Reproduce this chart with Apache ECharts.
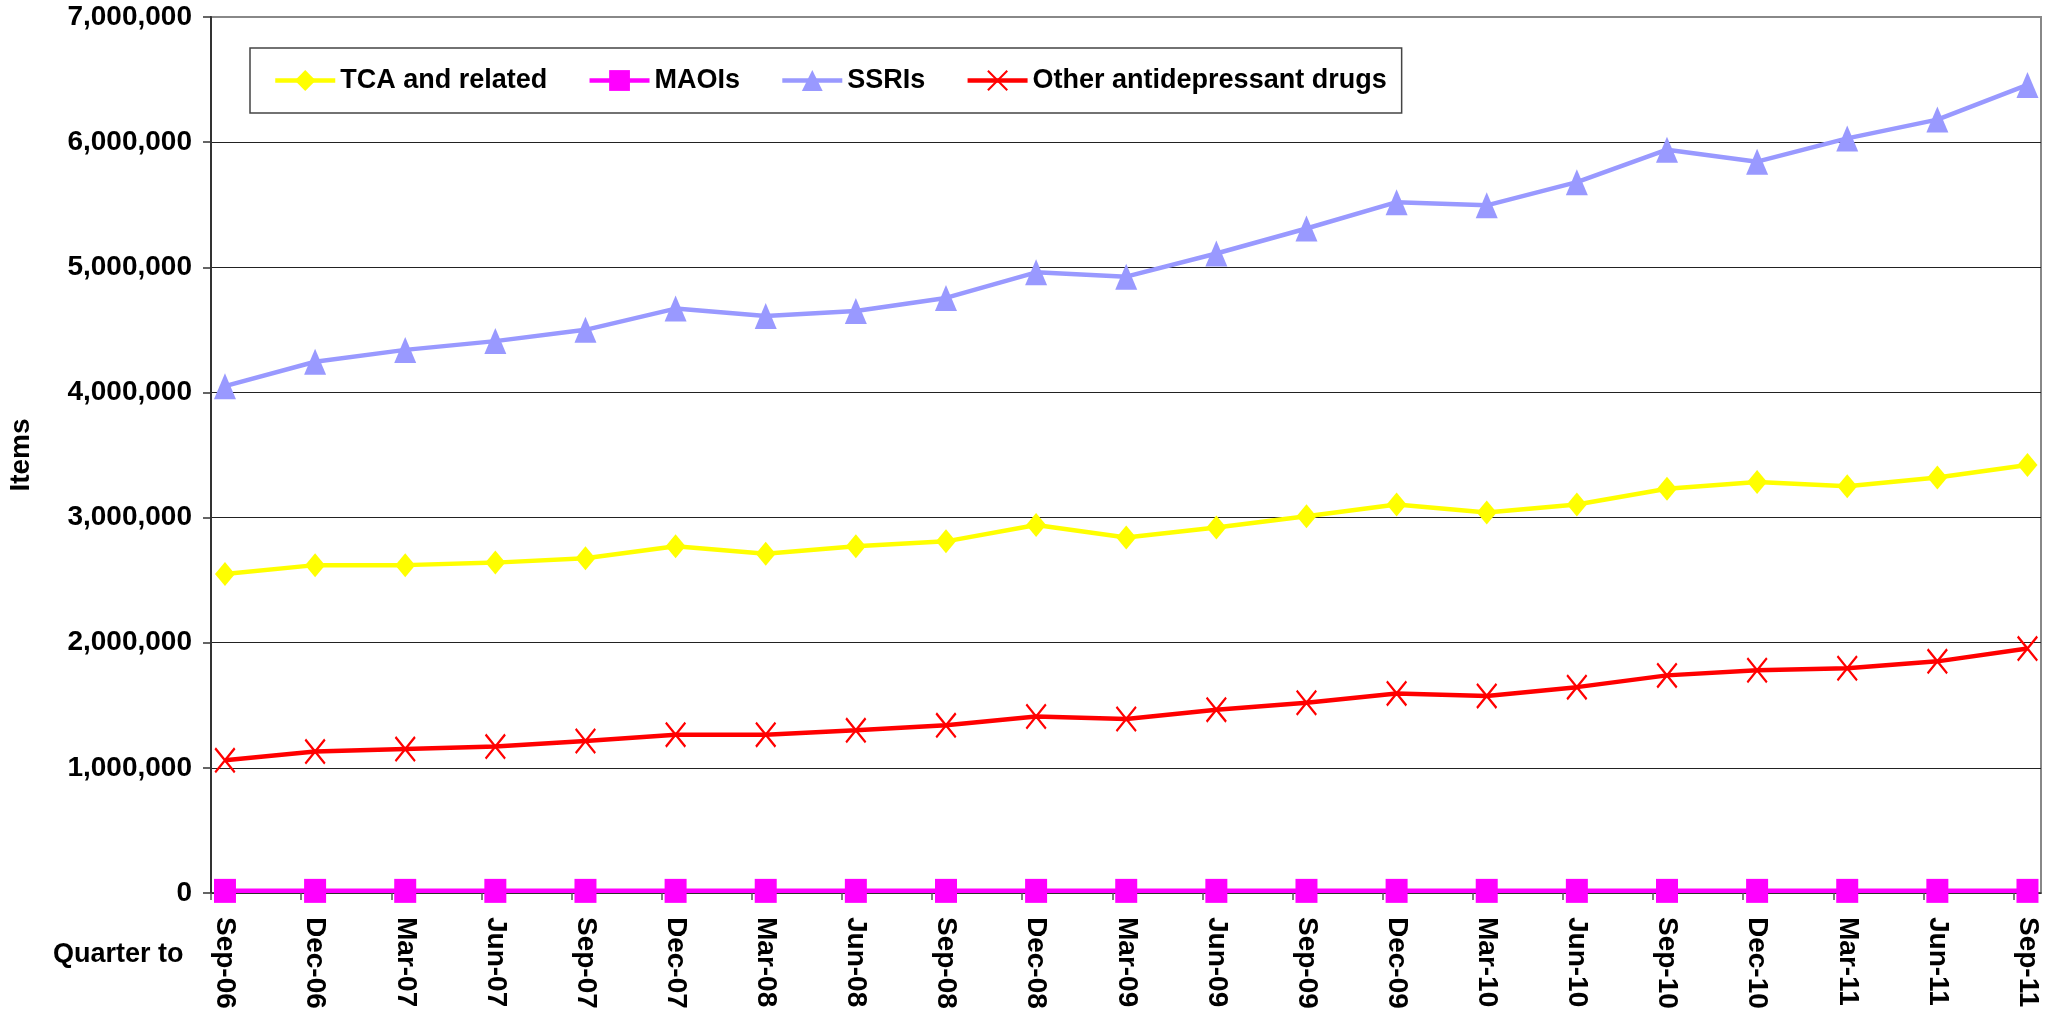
<!DOCTYPE html>
<html>
<head>
<meta charset="utf-8">
<script src="https://cdn.jsdelivr.net/npm/echarts@6/dist/echarts.min.js"></script>
<style>
html,body{margin:0;padding:0;background:#fff;}
#chart{width:2048px;height:1018px;}
</style>
</head>
<body>
<div id="chart"></div>
<script>
const categories = ['Sep-06','Dec-06','Mar-07','Jun-07','Sep-07','Dec-07','Mar-08','Jun-08','Sep-08','Dec-08','Mar-09','Jun-09','Sep-09','Dec-09','Mar-10','Jun-10','Sep-10','Dec-10','Mar-11','Jun-11','Sep-11'];
const tcaValues = [2549000, 2620000, 2620000, 2640000, 2675000, 2770000, 2710000, 2770000, 2810000, 2940000, 2840000, 2920000, 3010000, 3105000, 3040000, 3105000, 3230000, 3285000, 3250000, 3320000, 3420000];
const maoiValues = [17000, 17000, 17000, 17000, 17000, 17000, 17000, 17000, 17000, 17000, 17000, 17000, 17000, 17000, 17000, 17000, 17000, 17000, 17000, 17000, 17000];
const ssriValues = [4050000, 4245000, 4340000, 4410000, 4500000, 4670000, 4610000, 4650000, 4755000, 4960000, 4925000, 5110000, 5310000, 5520000, 5495000, 5680000, 5940000, 5844000, 6030000, 6180000, 6457000];
const otherValues = [1060000, 1130000, 1150000, 1170000, 1215000, 1265000, 1265000, 1300000, 1340000, 1410000, 1390000, 1465000, 1520000, 1595000, 1575000, 1645000, 1739000, 1780000, 1796000, 1851000, 1953000];
const seriesNames = ['TCA and related', 'MAOIs', 'SSRIs', 'Other antidepressant drugs'];

const FONT = "'Liberation Sans', Arial, sans-serif";
const toPairs = arr => arr.map((v, i) => [i, v]);
const labelPositions = categories.map((c, i) => i);
const tickPositions = categories.map((c, i) => i - 0.155);
const crossPath = 'path://M0,0.7L0.7,0L10,9.3L9.3,10Z M9.3,0L10,0.7L0.7,10L0,9.3Z';

const chart = echarts.init(document.getElementById('chart'));
chart.setOption({
  animation: false,
  backgroundColor: '#ffffff',
  textStyle: { fontFamily: FONT },
  title: {
    text: 'Quarter to',
    left: 53,
    top: 941,
    padding: 0,
    textStyle: { fontFamily: FONT, fontSize: 27, fontWeight: 'bold', color: '#000' }
  },
  legend: {
    left: 250,
    top: 48,
    orient: 'horizontal',
    padding: [19, 15, 19, 23],
    itemWidth: 60,
    itemHeight: 26,
    itemGap: 40,
    borderColor: '#444',
    borderWidth: 1.5,
    lineStyle: { width: 4.5 },
    textStyle: { fontFamily: FONT, fontSize: 27, fontWeight: 'bold', color: '#000', lineHeight: 26 },
    data: seriesNames
  },
  grid: {
    left: 211, top: 17, right: 7, bottom: 125,
    outerBoundsMode: 'none',
    show: true, borderColor: '#888', borderWidth: 2, backgroundColor: 'transparent'
  },
  xAxis: {
    type: 'value',
    min: -0.155,
    max: 20.15,
    axisLine: { show: true, onZero: false, lineStyle: { color: '#333', width: 1.5 } },
    axisTick: { show: true, length: 7, inside: false, customValues: tickPositions, lineStyle: { color: '#555', width: 1.5 } },
    axisLabel: {
      customValues: labelPositions,
      rotate: -90,
      margin: 24,
      fontFamily: FONT, fontSize: 28, fontWeight: 'bold', color: '#000',
      formatter: v => categories[Math.round(v)] || ''
    },
    splitLine: { show: false }
  },
  yAxis: {
    type: 'value',
    min: 0,
    max: 7000000,
    interval: 1000000,
    name: 'Items',
    nameLocation: 'middle',
    nameRotate: 90,
    nameGap: 176,
    nameTextStyle: { fontFamily: FONT, fontSize: 28, fontWeight: 'bold', color: '#000' },
    axisLine: { show: true, onZero: false, lineStyle: { color: '#333', width: 2 } },
    axisTick: { show: true, length: 8, inside: false, lineStyle: { color: '#333', width: 1.5 } },
    axisLabel: {
      margin: 19,
      fontFamily: FONT, fontSize: 28, fontWeight: 'bold', color: '#000',
      formatter: v => v.toLocaleString('en-US')
    },
    splitLine: { show: true, lineStyle: { color: ['#222','#222','#222','#222','#222','#222','#222','#888'], width: 1.2 } }
  },
  series: [
    {
      name: seriesNames[0], type: 'line', data: toPairs(tcaValues),
      symbol: 'diamond', symbolSize: [20, 24], showAllSymbol: true,
      lineStyle: { color: '#FFFF00', width: 4.5 },
      itemStyle: { color: '#FFFF00' }
    },
    {
      name: seriesNames[1], type: 'line', data: toPairs(maoiValues),
      symbol: 'rect', symbolSize: [22, 24], showAllSymbol: true, clip: false,
      lineStyle: { color: '#FF00FF', width: 4.5 },
      itemStyle: { color: '#FF00FF' }
    },
    {
      name: seriesNames[2], type: 'line', data: toPairs(ssriValues),
      symbol: 'triangle', symbolSize: [22, 26], showAllSymbol: true,
      lineStyle: { color: '#9999FF', width: 4.5 },
      itemStyle: { color: '#9999FF' }
    },
    {
      name: seriesNames[3], type: 'line', data: toPairs(otherValues),
      symbol: crossPath, symbolSize: [21, 26], showAllSymbol: true,
      lineStyle: { color: '#FF0000', width: 4.5 },
      itemStyle: { color: '#FF0000' }
    }
  ]
});
</script>
</body>
</html>
